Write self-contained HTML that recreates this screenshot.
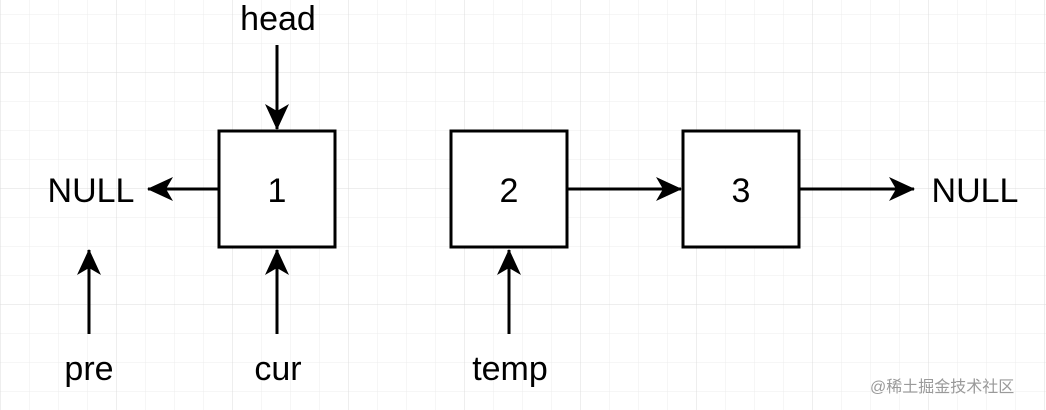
<!DOCTYPE html>
<html><head><style>
html,body{margin:0;padding:0;background:#fff;}
svg{display:block}
text{font-family:"Liberation Sans",Arial,sans-serif;font-size:34px;fill:#000}
</style></head><body>
<svg width="1046" height="410" viewBox="0 0 1046 410" xmlns="http://www.w3.org/2000/svg">
<defs>
<pattern id="minor" x="0" y="14" width="29" height="29" patternUnits="userSpaceOnUse">
<path d="M0 0H29M0 0V29" stroke="#ececec" stroke-width="1" fill="none"/>
</pattern>
<pattern id="major" x="0" y="72" width="116" height="116" patternUnits="userSpaceOnUse">
<path d="M0 0H116M0 0V116" stroke="#dcdcdc" stroke-width="1" fill="none"/>
</pattern>
<marker id="ah" viewBox="0 0 26 26" refX="25" refY="13" markerWidth="26" markerHeight="26" markerUnits="userSpaceOnUse" orient="auto">
<path d="M0 1 L26 13 L0 25 L7 13 Z" fill="#000"/>
</marker>
</defs>
<rect width="1046" height="410" fill="url(#minor)"/>
<rect width="1046" height="410" fill="url(#major)"/>
<g fill="#fff" stroke="#000" stroke-width="3">
<rect x="219" y="131" width="116" height="116"/>
<rect x="451" y="131" width="116" height="116"/>
<rect x="683" y="131" width="116" height="116"/>
</g>
<g stroke="#000" stroke-width="3" marker-end="url(#ah)">
<line x1="277" y1="45" x2="277" y2="129"/>
<line x1="219" y1="189" x2="148" y2="189"/>
<line x1="567" y1="189" x2="681" y2="189"/>
<line x1="799" y1="189" x2="914" y2="189"/>
<line x1="89" y1="334" x2="89" y2="250"/>
<line x1="277" y1="334" x2="277" y2="250"/>
<line x1="509" y1="334" x2="509" y2="250"/>
</g>
<g text-anchor="middle">
<text x="277" y="202">1</text>
<text x="509" y="202">2</text>
<text x="741" y="202">3</text>
<text x="91" y="202">NULL</text>
<text x="975" y="202">NULL</text>
<text x="278" y="30">head</text>
<text x="89" y="380">pre</text>
<text x="278" y="380">cur</text>
<text x="510" y="380">temp</text>
</g>
<text x="870" y="392" style="font-family:'Liberation Sans','Noto Sans CJK SC',sans-serif;font-size:16px;fill:#9a9a9a">@稀土掘金技术社区</text>
</svg>
</body></html>
